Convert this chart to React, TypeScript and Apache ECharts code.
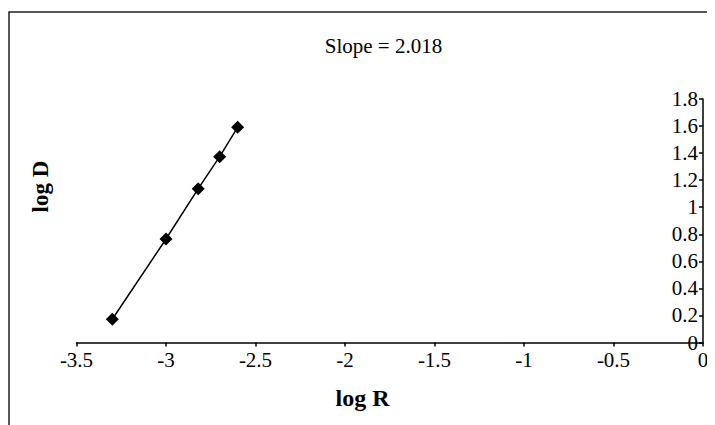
import React, { useEffect, useRef } from "react";
import * as echarts from "echarts";

const logR = [-3.3, -3.0, -2.82, -2.7, -2.6];
const logD = [0.172, 0.765, 1.137, 1.374, 1.591];
const slopeText = "Slope = 2.018";
const xTitle = "log R";
const yTitle = "log D";

const FONT = "'Liberation Serif', 'Times New Roman', serif";

export default function App() {
  const ref = useRef<HTMLDivElement>(null);
  useEffect(() => {
    if (!ref.current) return;
    const chart = echarts.init(ref.current, null, { renderer: "svg" });
    const data = logR.map((x, i) => [x, logD[i]]);
    chart.setOption({
      animation: false,
      backgroundColor: "#ffffff",
      grid: { left: 68.5, right: 12, top: 91, bottom: 82.5 },
      xAxis: {
        type: "value",
        min: -3.5,
        max: 0,
        interval: 0.5,
        position: "bottom",
        axisLine: { onZero: false, lineStyle: { color: "#000", width: 1.5 } },
        axisTick: { show: true, inside: false, length: 4, lineStyle: { color: "#000", width: 1.5 } },
        axisLabel: { color: "#000", fontFamily: FONT, fontSize: 21, margin: 7 },
        splitLine: { show: false },
      },
      yAxis: {
        type: "value",
        min: 0,
        max: 1.8,
        interval: 0.2,
        position: "right",
        axisLine: { show: true, onZero: false, lineStyle: { color: "#000", width: 1.5 } },
        axisTick: { show: true, inside: true, length: 4, lineStyle: { color: "#000", width: 1.5 } },
        axisLabel: { inside: true, color: "#000", fontFamily: FONT, fontSize: 21, margin: 5 },
        splitLine: { show: false },
      },
      graphic: [
        {
          type: "rect",
          shape: { x: 1, y: 4, width: 1000, height: 1000 },
          style: { fill: "none", stroke: "#222", lineWidth: 1.5 },
          silent: true,
          z: -10,
        },
        {
          type: "text",
          x: 375.5,
          y: 38,
          style: {
            text: slopeText,
            fontFamily: FONT,
            fontSize: 21,
            fill: "#000",
            align: "center",
            verticalAlign: "middle",
          },
        },
        {
          type: "text",
          x: 354.5,
          y: 390,
          style: {
            text: xTitle,
            fontFamily: FONT,
            fontSize: 24,
            fontWeight: "bold",
            fill: "#000",
            align: "center",
            verticalAlign: "middle",
          },
        },
        {
          type: "text",
          x: 32,
          y: 178.5,
          rotation: Math.PI / 2,
          style: {
            text: yTitle,
            fontFamily: FONT,
            fontSize: 23,
            fontWeight: "bold",
            fill: "#000",
            align: "center",
            verticalAlign: "middle",
          },
        },
      ],
      series: [
        {
          type: "line",
          data,
          symbol: "diamond",
          symbolSize: 13,
          itemStyle: { color: "#000" },
          lineStyle: { color: "#000", width: 1.5 },
        },
      ],
    });
    return () => chart.dispose();
  }, []);
  return <div ref={ref} style={{ width: 707, height: 417 }} />;
}
